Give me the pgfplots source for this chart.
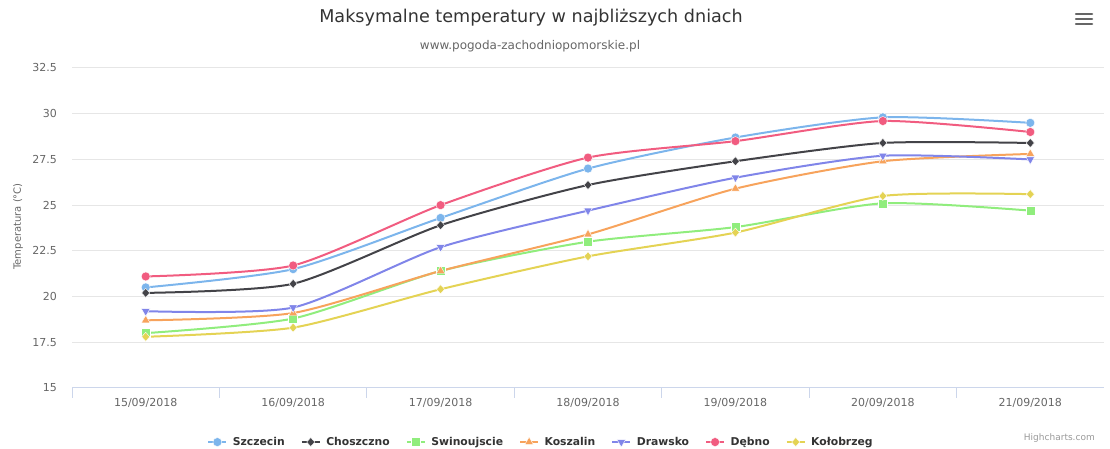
\documentclass[border=0pt]{standalone}
\usepackage{pgfplots}
\pgfplotsset{compat=1.18}
\usepackage{fontspec}
\setmainfont{DejaVu Sans}
\definecolor{c1}{HTML}{7CB5EC}
\definecolor{c2}{HTML}{434348}
\definecolor{c3}{HTML}{90ED7D}
\definecolor{c4}{HTML}{F7A35C}
\definecolor{c5}{HTML}{8085E9}
\definecolor{c6}{HTML}{F15C80}
\definecolor{c7}{HTML}{E4D354}
\definecolor{axisc}{HTML}{CCD6EB}
\definecolor{gridc}{HTML}{E6E6E6}
\definecolor{t333}{HTML}{333333}
\definecolor{t666}{HTML}{666666}
\definecolor{t999}{HTML}{999999}
\begin{document}
\begin{tikzpicture}[x=1bp,y=1bp]
\path[use as bounding box] (0,0) rectangle (1110,449);
\node[anchor=base, text=t333, font=\fontsize{17.6bp}{22bp}\selectfont] at (531,426) {Maksymalne temperatury w najbliższych dniach};
\node[anchor=base, text=t666, font=\fontsize{12bp}{14bp}\selectfont] at (530,399) {www.pogoda-zachodniopomorskie.pl};
\node[anchor=base east, text=t999, font=\fontsize{9bp}{11bp}\selectfont, inner sep=0pt] at (1095,8) {Highcharts.com};
\foreach \yy in {435,430,425} {\draw[t666, line width=2.5bp, line cap=round] (1076,\yy) -- (1092,\yy);}
\begin{axis}[
  at={(72bp,61bp)}, anchor=south west,
  scale only axis, width=1032bp, height=320bp,
  xmin=-0.5, xmax=6.5, ymin=15, ymax=32.5,
  axis x line*=bottom, axis y line*=left,
  x axis line style={draw=axisc, line width=1bp, -},
  y axis line style={draw=none},
  xtick={0,1,2,3,4,5,6},
  xticklabels={15/09/2018,16/09/2018,17/09/2018,18/09/2018,19/09/2018,20/09/2018,21/09/2018},
  ytick={15,17.5,20,22.5,25,27.5,30,32.5},
  yticklabels={15,17.5,20,22.5,25,27.5,30,32.5},
  major tick length=0pt,
  tick align=outside,
  extra x ticks={-0.5,0.5,1.5,2.5,3.5,4.5,5.5},
  extra x tick labels={},
  extra x tick style={major tick length=10bp, tick style={draw=axisc, line width=1bp}, grid=none},
  ymajorgrids, grid style={draw=gridc, line width=1bp},
  xticklabel style={font=\fontsize{11bp}{13bp}\selectfont, text=t666, anchor=north, inner sep=0pt, yshift=-10bp},
  yticklabel style={font=\fontsize{11bp}{13bp}\selectfont, text=t666, anchor=east, inner sep=0pt, xshift=-15bp},
  ylabel={Temperatura (°C)},
  every axis y label/.style={at={(axis description cs:-0.0523,0.505)}, rotate=90, anchor=center, font=\fontsize{10bp}{12bp}\selectfont, text=t666},
  legend columns=7,
  legend style={draw=none, fill=none, at={(axis description cs:0.4535,-0.169)}, anchor=center,
    font=\bfseries\fontsize{10.8bp}{13bp}\selectfont, text=t333,
    nodes={inner sep=0pt},
    /tikz/every odd column/.append style={column sep=5.5bp},
    /tikz/every even column/.append style={column sep=16bp}},
  legend image code/.code={\draw[mark repeat=2,mark phase=2,#1] plot coordinates {(0bp,0bp) (9bp,0bp) (18bp,0bp)};},
  every axis plot/.append style={line width=2bp, smooth, tension=0.4},
]
\addplot[c1, mark=*, mark size=4.5bp, mark options={draw=white, line width=0.4bp, fill=c1}] coordinates {(0,20.5) (1,21.5) (2,24.3) (3,27.0) (4,28.7) (5,29.8) (6,29.5)};
\addlegendentry{Szczecin}
\addplot[c2, mark=diamond*, mark size=4.5bp, mark options={draw=white, line width=0.4bp, fill=c2, xscale=1.2}] coordinates {(0,20.2) (1,20.7) (2,23.9) (3,26.1) (4,27.4) (5,28.4) (6,28.4)};
\addlegendentry{Choszczno}
\addplot[c3, mark=square*, mark size=4.5bp, mark options={draw=white, line width=0.4bp, fill=c3}] coordinates {(0,18.0) (1,18.8) (2,21.4) (3,23.0) (4,23.8) (5,25.1) (6,24.7)};
\addlegendentry{Swinoujscie}
\addplot[c4, mark=triangle*, mark size=5bp, mark options={draw=white, line width=0.4bp, fill=c4}] coordinates {(0,18.7) (1,19.1) (2,21.4) (3,23.4) (4,25.9) (5,27.4) (6,27.8)};
\addlegendentry{Koszalin}
\addplot[c5, mark=triangle*, mark size=5bp, mark options={draw=white, line width=0.4bp, fill=c5, rotate=180}] coordinates {(0,19.2) (1,19.4) (2,22.7) (3,24.7) (4,26.5) (5,27.7) (6,27.5)};
\addlegendentry{Drawsko}
\addplot[c6, mark=*, mark size=4.5bp, mark options={draw=white, line width=0.4bp, fill=c6}] coordinates {(0,21.1) (1,21.7) (2,25.0) (3,27.6) (4,28.5) (5,29.6) (6,29.0)};
\addlegendentry{Dębno}
\addplot[c7, mark=diamond*, mark size=4.5bp, mark options={draw=white, line width=0.4bp, fill=c7, xscale=1.2}] coordinates {(0,17.8) (1,18.3) (2,20.4) (3,22.2) (4,23.5) (5,25.5) (6,25.6)};
\addlegendentry{Kołobrzeg}
\end{axis}
\end{tikzpicture}
\end{document}
